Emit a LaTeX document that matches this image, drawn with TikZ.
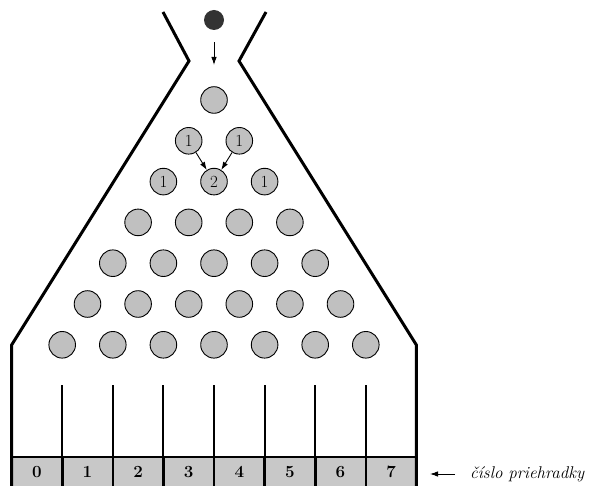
\documentclass[tikz,border=0pt]{standalone}
\usetikzlibrary{arrows.meta}
\definecolor{pegray}{RGB}{192,192,192}
\definecolor{boxgray}{RGB}{200,200,200}
\definecolor{ballc}{RGB}{51,51,51}
\begin{document}
\begin{tikzpicture}[x=1pt,y=-1pt,
  peg/.style={circle,draw=black,line width=0.9pt,fill=pegray,minimum size=26.6pt,inner sep=0pt,font=\fontsize{17}{20}\selectfont},
  wall/.style={line width=3pt,line join=miter},
  binline/.style={line width=2pt},
  divider/.style={line width=2.6pt},
  arr/.style={-{Latex[length=8pt,width=5.5pt]},line width=0.9pt},
  binnum/.style={anchor=base,font=\fontsize{17}{20}\selectfont\bfseries},
  ]
\useasboundingbox (0,0) rectangle (594,486);
% ball
\node[circle,fill=ballc,minimum size=20pt,inner sep=0pt] (ball) at (214,20) {};
\coordinate (drop) at (214,65);
\draw[arr] ([yshift=-12pt]ball.south) -- (drop);
% pegs
\foreach \r in {0,3,4,5,6}{
  \foreach \c in {0,...,\r}{
    \node[peg] (p-\r-\c) at ({214+(\c-\r/2)*50.6},{100+\r*40.8}) {};
  }
}
\node[peg] (p-1-0) at ({214-0.5*50.6},{100+40.8}) {1};
\node[peg] (p-1-1) at ({214+0.5*50.6},{100+40.8}) {1};
\node[peg] (p-2-0) at ({214-50.6},{100+2*40.8}) {1};
\node[peg] (p-2-1) at (214,{100+2*40.8}) {2};
\node[peg] (p-2-2) at ({214+50.6},{100+2*40.8}) {1};
\draw[arr] (p-1-0) -- (p-2-1);
\draw[arr] (p-1-1) -- (p-2-1);
% box
\fill[boxgray] (11.6,457) rectangle (416.4,490);
\draw[divider] (11.6,457) -- (416.4,457);
\foreach \k in {1,...,7}{
  \draw[binline] ({11.6+\k*50.6},385) -- ({11.6+\k*50.6},457);
  \draw[divider] ({11.6+\k*50.6},457) -- ({11.6+\k*50.6},490);
}
\foreach \k in {0,...,7}{
  \node[binnum] (b\k) at ({11.6+(\k+0.5)*50.6},477) {\k};
}
% walls
\draw[wall] (163,12) -- (189,61) -- (11.6,345) -- (11.6,490);
\draw[wall] (266,12) -- (239,61) -- (416.4,345) -- (416.4,490);
% label
\node[anchor=base west,inner sep=0pt,font=\fontsize{17}{20}\selectfont\itshape] (lbl) at (470,478) {číslo priehradky};
\coordinate (lblarrow) at (455,474);
\coordinate (tipend) at (430,474);
\draw[arr] (lblarrow) -- (tipend);
\end{tikzpicture}
\end{document}
